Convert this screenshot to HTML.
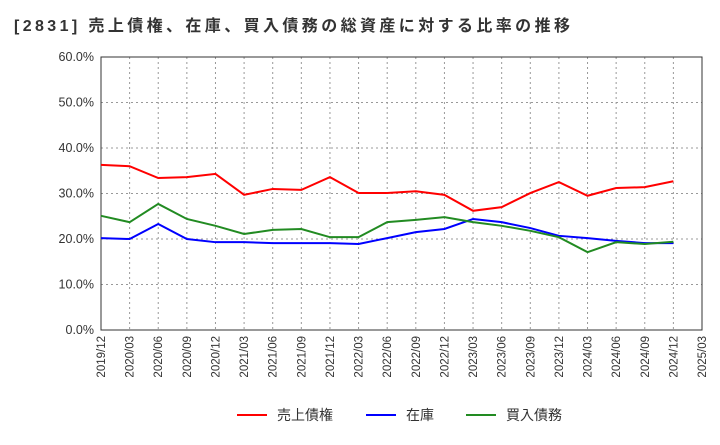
<!DOCTYPE html>
<html><head><meta charset="utf-8"><style>
body{margin:0;background:#fff;font-family:"Liberation Sans","Noto Sans CJK JP",sans-serif}
</style></head><body>
<svg width="720" height="440" xmlns="http://www.w3.org/2000/svg">
<text x="14" y="31" font-size="16" font-weight="bold" fill="#333" textLength="556" lengthAdjust="spacing" font-family="Liberation Sans, Noto Sans CJK JP, sans-serif">[2831]  売上債権、在庫、買入債務の総資産に対する比率の推移</text>
<g id="grid"></g><g id="axes"></g><g id="series"></g>
<g font-size="14" fill="#333" font-family="Liberation Sans, Noto Sans CJK JP, sans-serif">
<line x1="237" y1="415" x2="267" y2="415" stroke="#f00" stroke-width="2"/><text x="277" y="420">売上債権</text>
<line x1="366" y1="415" x2="396" y2="415" stroke="#00f" stroke-width="2"/><text x="406" y="420">在庫</text>
<line x1="466" y1="415" x2="496" y2="415" stroke="#228b22" stroke-width="2"/><text x="506" y="420">買入債務</text>
</g>
</svg>
<script>
const categories=["2019/12","2020/03","2020/06","2020/09","2020/12","2021/03","2021/06","2021/09","2021/12","2022/03","2022/06","2022/09","2022/12","2023/03","2023/06","2023/09","2023/12","2024/03","2024/06","2024/09","2024/12","2025/03"];
const receivables=[36.3,36.0,33.4,33.6,34.3,29.7,31.0,30.8,33.6,30.1,30.1,30.5,29.7,26.2,27.0,30.1,32.5,29.5,31.2,31.4,32.7];
const inventory=[20.2,20.0,23.3,20.0,19.3,19.3,19.1,19.1,19.1,18.9,20.2,21.5,22.2,24.4,23.7,22.4,20.7,20.2,19.6,19.1,19.1];
const payables=[25.1,23.7,27.7,24.4,22.9,21.1,22.0,22.2,20.4,20.4,23.7,24.2,24.8,23.7,22.9,21.8,20.4,17.1,19.3,18.9,19.4];
const yTicks=[0,10,20,30,40,50,60];
const L=101,R=702,T=57,B=330;
const xs=i=>L+i*(R-L)/(categories.length-1);
const ys=v=>B-(v/60)*(B-T);
const NS="http://www.w3.org/2000/svg";
function mk(tag,attrs,parent){const e=document.createElementNS(NS,tag);for(const k in attrs)e.setAttribute(k,attrs[k]);parent.appendChild(e);return e;}
const grid=document.getElementById('grid'),axes=document.getElementById('axes'),series=document.getElementById('series');
categories.forEach((c,i)=>{
 const g=mk('line',{x1:xs(i),x2:xs(i),y1:T,y2:B,stroke:'#999','stroke-dasharray':'2,3'},grid);
 
 
 const t=mk('text',{x:0,y:0,'font-size':11.5,fill:'#333','text-anchor':'end',transform:`translate(${xs(i)+4},${B+6}) rotate(-90)`},axes);
 t.textContent=c;
 
 
});
yTicks.forEach(v=>{
 const g=mk('line',{x1:L,x2:R,y1:ys(v),y2:ys(v),stroke:'#999','stroke-dasharray':'2,3'},grid);
 
 
 const t=mk('text',{x:L-7,y:ys(v)+4,'font-size':12.5,fill:'#333','text-anchor':'end'},axes);
 t.textContent=v.toFixed(1)+'%';
 
 
});
const frame=mk('rect',{x:L,y:T,width:R-L,height:B-T,fill:'none',stroke:'#333'},axes);


[[receivables,'#f00','receivables-line'],[inventory,'#00f','inventory-line'],[payables,'#228b22','payables-line']].forEach(([d,c,n])=>{
 const p=mk('polyline',{points:d.map((v,i)=>xs(i)+','+ys(v)).join(' '),fill:'none',stroke:c,'stroke-width':2},series);
 
 
});
</script>
</body></html>
